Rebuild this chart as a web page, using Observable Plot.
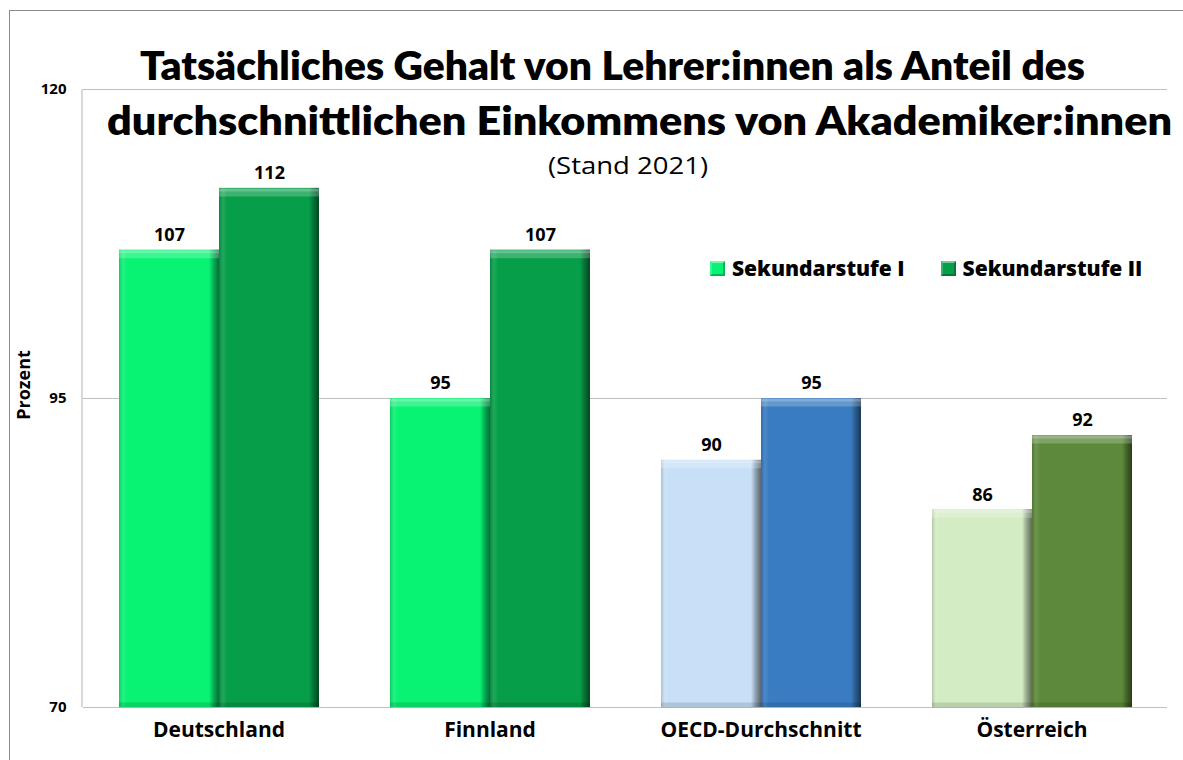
<!DOCTYPE html>
<html>
<head>
<meta charset="utf-8">
<script src="https://cdn.jsdelivr.net/npm/d3@7"></script>
<script src="https://cdn.jsdelivr.net/npm/@observablehq/plot@0.6"></script>
<style>
  html, body { margin: 0; padding: 0; background: #fff; }
  #wrap { position: relative; width: 1183px; height: 760px; overflow: hidden; font-family: "Open Sans", sans-serif; }
  #border { position: absolute; left: 9px; top: 10px; width: 1200px; height: 800px; border: 1px solid #8c8c8c; box-sizing: border-box; }
  #chart { position: absolute; left: 0; top: 0; }
  #legend { position: absolute; left: 710px; top: 254px; display: flex; gap: 36px; font-weight: 800; font-size: 21px; font-family: "Open Sans", sans-serif; }
  .item { display: flex; align-items: center; gap: 7px; }
  .sw { width: 15px; height: 15px; box-sizing: border-box; border: 2px solid rgba(0,0,0,0.25); border-top-color: rgba(255,255,255,0.45); border-left-color: rgba(255,255,255,0.2); }
</style>
</head>
<body>
<div id="wrap">
  <div id="border"></div>
  <div id="chart"></div>
  <div id="legend"></div>
</div>
<script>
const countries = ["Deutschland", "Finnland", "OECD-Durchschnitt", "Österreich"];
const seriesNames = ["Sekundarstufe I", "Sekundarstufe II"];
const sek1 = [107, 95, 90, 86];
const sek2 = [112, 107, 95, 92];
const colors1 = ["#08F274", "#08F274", "#C7E0F7", "#D3ECC4"];
const colors2 = ["#079E49", "#079E49", "#397CC1", "#5D8A3A"];
const legendColors = ["#08F274", "#079E49"];
const yTicks = [70, 95, 120];
const titleLines = ["Tatsächliches Gehalt von Lehrer:innen als Anteil des", "durchschnittlichen Einkommens von Akademiker:innen"];
const subtitle = "(Stand 2021)";
const yLabel = "Prozent";

const data = [];
countries.forEach((c, i) => {
  data.push({country: c, series: seriesNames[0], value: sek1[i], color: colors1[i]});
  data.push({country: c, series: seriesNames[1], value: sek2[i], color: colors2[i]});
});

const M = {left: 82, right: 16, top: 89, bottom: 53};

const plot = Plot.plot({
  width: 1183,
  height: 760,
  marginLeft: M.left,
  marginRight: M.right,
  marginTop: M.top,
  marginBottom: M.bottom,
  style: {fontFamily: "'Open Sans', sans-serif", color: "#000", background: "transparent"},
  fx: {domain: countries, paddingInner: 0, paddingOuter: 0, label: null},
  x: {domain: seriesNames, paddingInner: 0, paddingOuter: 0.35, axis: null},
  y: {domain: [yTicks[0], yTicks[2]], ticks: yTicks, label: null},
  color: {type: "identity"},
  marks: [
    Plot.gridY(yTicks.slice(1), {stroke: "#bfbfbf", strokeOpacity: 1, strokeWidth: 1.2}),
    Plot.ruleY([yTicks[0]], {stroke: "#bfbfbf", strokeWidth: 1.2}),
    Plot.axisY({ticks: yTicks, tickSize: 0, tickPadding: 17, fontSize: 15, fontWeight: "bold", label: null, facetAnchor: "left"}),
    Plot.axisFx({tickSize: 0, tickPadding: 15, fontSize: 21, fontWeight: "bold", label: null, anchor: "bottom"}),
    Plot.barY(data, {fx: "country", x: "series", y1: yTicks[0], y2: "value", fill: "color"}),
    Plot.barY(data, {fx: "country", x: "series", y1: yTicks[0], y2: "value", fill: "url(#bevelH)"}),
    Plot.tickY(data, {fx: "country", x: "series", y: "value", stroke: "white", strokeOpacity: 0.22, strokeWidth: 8, dy: 4}),
    Plot.tickY(data, {fx: "country", x: "series", y: "value", stroke: "white", strokeOpacity: 0.2, strokeWidth: 3, dy: 1.5}),
    Plot.tickY(data, {fx: "country", x: "series", y: yTicks[0], stroke: "black", strokeOpacity: 0.12, strokeWidth: 5, dy: -2.5}),
    Plot.text(data, {fx: "country", x: "series", y: "value", text: d => String(d.value), dy: -15, fontSize: 18, fontWeight: "bold", fill: "#000"})
  ]
});

const ns = "http://www.w3.org/2000/svg";
const defs = document.createElementNS(ns, "defs");
defs.innerHTML = `
  <linearGradient id="bevelH" x1="0" x2="1" y1="0" y2="0">
    <stop offset="0" stop-color="#000" stop-opacity="0.15"/>
    <stop offset="0.04" stop-color="#fff" stop-opacity="0.1"/>
    <stop offset="0.08" stop-color="#fff" stop-opacity="0"/>
    <stop offset="0.9" stop-color="#000" stop-opacity="0"/>
    <stop offset="0.94" stop-color="#000" stop-opacity="0.25"/>
    <stop offset="1" stop-color="#000" stop-opacity="0.55"/>
  </linearGradient>`;
plot.insertBefore(defs, plot.firstChild);
document.getElementById("chart").appendChild(plot);

// left axis line, positioned with the plot's own y scale
const yScale = plot.scale("y");
const axisLine = document.createElementNS(ns, "line");
axisLine.setAttribute("x1", M.left); axisLine.setAttribute("x2", M.left);
axisLine.setAttribute("y1", yScale.apply(yTicks[2])); axisLine.setAttribute("y2", yScale.apply(yTicks[0]));
axisLine.setAttribute("stroke", "#bfbfbf"); axisLine.setAttribute("stroke-width", 1.2);
plot.appendChild(axisLine);

function addText(txt, attrs) {
  const t = document.createElementNS(ns, "text");
  t.setAttribute("text-anchor", "start");
  for (const k in attrs) t.setAttribute(k, attrs[k]);
  t.textContent = txt;
  plot.appendChild(t);
  return t;
}
addText(titleLines[0], {x: 140, y: 80, "font-family": "Lato, sans-serif", "font-weight": 800, "font-size": 40, textLength: 945, lengthAdjust: "spacingAndGlyphs", fill: "#000"});
addText(titleLines[1], {x: 107, y: 135, "font-family": "Lato, sans-serif", "font-weight": 800, "font-size": 40, textLength: 1065, lengthAdjust: "spacingAndGlyphs", fill: "#000"});
addText(subtitle, {x: 548, y: 174, "font-family": "'Open Sans', sans-serif", "font-size": 23, textLength: 160, lengthAdjust: "spacingAndGlyphs", fill: "#000"});
addText(yLabel, {transform: "translate(30,385) rotate(-90)", "text-anchor": "middle", "font-size": 18, "font-weight": "bold", "font-family": "'Open Sans', sans-serif"});

const legend = document.getElementById("legend");
seriesNames.forEach((s, i) => {
  const it = document.createElement("div");
  it.className = "item";
  const sw = document.createElement("div");
  sw.className = "sw";
  sw.style.background = legendColors[i];
  const lb = document.createElement("span");
  lb.textContent = s;
  it.appendChild(sw); it.appendChild(lb);
  legend.appendChild(it);
});
</script>
</body>
</html>
